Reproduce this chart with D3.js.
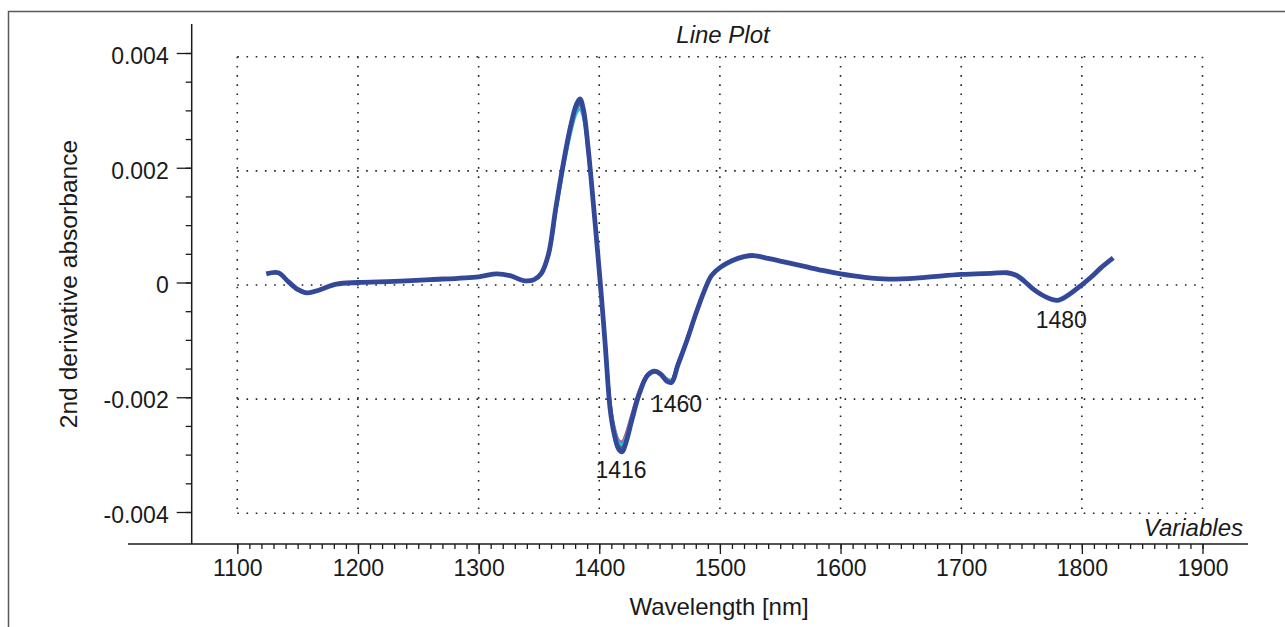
<!DOCTYPE html>
<html>
<head>
<meta charset="utf-8">
<script src="https://cdn.jsdelivr.net/npm/d3@7"></script>
<style>
  html, body { margin: 0; padding: 0; background: #fff; }
  svg { display: block; font-family: "Liberation Sans", Arial, sans-serif; }
</style>
</head>
<body>
<div class="chart"></div>
<script>
// wavelength (nm) and 2nd derivative absorbance (x 1e-3), main (blue) spectrum
var wavelengths = [1124, 1134, 1142, 1150, 1158, 1168, 1182, 1200, 1230, 1260, 1300, 1315, 1326, 1338, 1346, 1352,
    1358, 1364, 1370, 1376, 1381, 1384, 1387, 1391, 1395, 1399, 1402, 1405, 1409, 1412, 1416, 1419, 1422, 1427,
    1433, 1440, 1446, 1451, 1456, 1460, 1465, 1472, 1480, 1487, 1493, 1500, 1510, 1520, 1528, 1540, 1555, 1570,
    1585, 1600, 1620, 1640, 1665, 1700, 1725, 1738, 1745, 1752, 1760, 1770, 1780, 1790, 1800, 1808, 1816, 1826];
var absorbance = [0.15, 0.17, 0.02, -0.12, -0.18, -0.13, -0.03, 0.0, 0.02, 0.05, 0.10, 0.15, 0.12, 0.03, 0.05, 0.16,
    0.50, 1.30, 2.05, 2.70, 3.10, 3.20, 3.00, 2.30, 1.40, 0.45, -0.30, -1.10, -2.20, -2.60, -2.90, -2.95, -2.80, -2.40,
    -1.95, -1.62, -1.55, -1.60, -1.72, -1.74, -1.45, -1.05, -0.55, -0.15, 0.12, 0.26, 0.38, 0.45, 0.47, 0.42, 0.35, 0.28,
    0.21, 0.15, 0.09, 0.06, 0.08, 0.14, 0.16, 0.17, 0.13, 0.03, -0.12, -0.25, -0.31, -0.20, -0.04, 0.10, 0.26, 0.43];

// other replicate spectra, only where they separate from the blue one
var subWavelengths = [1352, 1358, 1364, 1370, 1376, 1381, 1384, 1387, 1391, 1395, 1399, 1402, 1405, 1409, 1412, 1416,
    1419, 1422, 1427, 1433, 1440, 1446, 1451, 1456, 1460, 1465, 1472, 1480];
var seriesPink = [0.16, 0.48, 1.25, 1.98, 2.62, 3.00, 3.10, 2.92, 2.25, 1.38, 0.45, -0.28, -1.05, -2.08, -2.48, -2.75,
    -2.78, -2.65, -2.30, -1.90, -1.60, -1.53, -1.58, -1.68, -1.70, -1.42, -1.03, -0.55];
var seriesGreen = [0.16, 0.49, 1.27, 2.00, 2.65, 3.04, 3.12, 2.95, 2.28, 1.40, 0.46, -0.29, -1.08, -2.14, -2.55, -2.83,
    -2.87, -2.72, -2.35, -1.92, -1.61, -1.54, -1.59, -1.69, -1.71, -1.43, -1.04, -0.55];
var seriesCyan = [0.16, 0.47, 1.22, 1.95, 2.58, 2.95, 3.02, 2.86, 2.22, 1.36, 0.43, -0.30, -1.06, -2.10, -2.50, -2.78,
    -2.82, -2.70, -2.33, -1.91, -1.60, -1.53, -1.58, -1.68, -1.70, -1.42, -1.03, -0.55];

var xTicks = [1100, 1200, 1300, 1400, 1500, 1600, 1700, 1800, 1900];
var yTicks = [0.004, 0.002, 0, -0.002, -0.004];
var yTickLabels = ["0.004", "0.002", "0", "-0.002", "-0.004"];

// peak annotations (label, wavelength, value)
var peakLabels = ["1416", "1460", "1480"];
var peakWavelengths = [1418, 1464, 1783];
var peakValues = [-0.0034, -0.00226, -0.00079];

var width = 1285;
var height = 627;
var fontSize = 23;
var labelSize = 24;

//////// scales
var x = d3.scaleLinear().domain([1100, 1900]).range([237.3, 1202.5]);
var y = d3.scaleLinear().domain([-0.004, 0.004]).range([512, 53]);
var gridY = d3.scaleLinear().domain([-0.004, 0.004]).range([513.3, 56.7]);

var svg = d3.select(".chart")
    .append("svg")
    .attr("width", width)
    .attr("height", height);

// outer frame
svg.append("path")
    .attr("d", "M 8.5 " + height + " L 8.5 11.5 L " + width + " 11.5")
    .attr("fill", "none")
    .attr("stroke", "#5a5a5a")
    .attr("stroke-width", 1.5);

//////// dotted grid
var grid = svg.append("g")
    .attr("stroke", "#222")
    .attr("stroke-width", 1.6)
    .attr("stroke-dasharray", "1.6,7.6");

grid.selectAll(".vgrid")
    .data(xTicks)
    .enter()
    .append("line")
    .attr("x1", function(d) { return x(d); })
    .attr("x2", function(d) { return x(d); })
    .attr("y1", gridY(0.004))
    .attr("y2", gridY(-0.004));

grid.selectAll(".hgrid")
    .data(yTicks)
    .enter()
    .append("line")
    .attr("x1", x(1100))
    .attr("x2", x(1900))
    .attr("y1", function(d) { return gridY(d); })
    .attr("y2", function(d) { return gridY(d); });

//////// axes
var axisY = 544;
var axisX = 191.7;

svg.append("line")
    .attr("x1", 128).attr("x2", 1248)
    .attr("y1", axisY).attr("y2", axisY)
    .attr("stroke", "#1a1a1a").attr("stroke-width", 1.5);

svg.append("line")
    .attr("x1", axisX).attr("x2", axisX)
    .attr("y1", 24).attr("y2", axisY)
    .attr("stroke", "#1a1a1a").attr("stroke-width", 1.5);

// x ticks: minor every 10 nm, major every 100 nm
var xAxis = d3.axisBottom(x)
    .tickValues(d3.range(1100, 1901, 10))
    .tickSize(5)
    .tickFormat("");

var xMinor = svg.append("g")
    .attr("transform", "translate(0," + axisY + ")")
    .call(xAxis);
xMinor.select(".domain").remove();
xMinor.selectAll("line").attr("stroke", "#1a1a1a").attr("stroke-width", 1.3);

var xMajor = svg.append("g")
    .attr("transform", "translate(0," + axisY + ")")
    .call(d3.axisBottom(x).tickValues(xTicks).tickSize(10).tickPadding(22).tickFormat(d3.format("d")));
xMajor.select(".domain").remove();
xMajor.selectAll("line").attr("stroke", "#1a1a1a").attr("stroke-width", 1.3);
xMajor.selectAll("text")
    .attr("font-family", "Liberation Sans, Arial, sans-serif")
    .attr("font-size", fontSize + "px")
    .attr("fill", "#1a1a1a")
    .attr("dy", null)
    .attr("y", 576 - axisY);

// y ticks: minor every 0.0005, major every 0.002
var yMinor = svg.append("g")
    .attr("transform", "translate(" + axisX + ",0)")
    .call(d3.axisLeft(y).tickValues(d3.range(-8, 9).map(function(i) { return i * 0.0005; })).tickSize(6).tickFormat(""));
yMinor.select(".domain").remove();
yMinor.selectAll("line").attr("stroke", "#1a1a1a").attr("stroke-width", 1.3);

var yMajor = svg.append("g")
    .attr("transform", "translate(" + axisX + ",0)")
    .call(d3.axisLeft(y).tickValues(yTicks).tickSize(15).tickPadding(8)
        .tickFormat(function(d, i) { return yTickLabels[i]; }));
yMajor.select(".domain").remove();
yMajor.selectAll("line").attr("stroke", "#1a1a1a").attr("stroke-width", 1.3);
yMajor.selectAll("text")
    .attr("font-family", "Liberation Sans, Arial, sans-serif")
    .attr("font-size", fontSize + "px")
    .attr("fill", "#1a1a1a")
    .attr("dy", "0.45em");

//////// spectra
var line = d3.line()
    .x(function(d) { return x(d[0]); })
    .y(function(d) { return y(d[1] / 1000); })
    .curve(d3.curveCatmullRom.alpha(0.5));

var subSeries = [
    { values: seriesPink, color: "#d2457a" },
    { values: seriesGreen, color: "#2c8f55" },
    { values: seriesCyan, color: "#35b6d8" }
];

subSeries.forEach(function(s) {
    svg.append("path")
        .attr("d", line(d3.zip(subWavelengths, s.values)))
        .attr("fill", "none")
        .attr("stroke", s.color)
        .attr("stroke-width", 3)
        .attr("stroke-linejoin", "round");
});

svg.append("path")
    .attr("d", line(d3.zip(wavelengths, absorbance)))
    .attr("fill", "none")
    .attr("stroke", "#34489a")
    .attr("stroke-width", 4.8)
    .attr("stroke-linejoin", "round")
    .attr("stroke-linecap", "butt");

//////// peak labels
svg.selectAll(".peak")
    .data(peakLabels)
    .enter()
    .append("text")
    .attr("x", function(d, i) { return x(peakWavelengths[i]); })
    .attr("y", function(d, i) { return y(peakValues[i]); })
    .attr("text-anchor", "middle")
    .attr("font-size", fontSize + "px")
    .attr("fill", "#1a1a1a")
    .text(function(d) { return d; });

//////// titles
svg.append("text")
    .attr("x", 723)
    .attr("y", 43)
    .attr("text-anchor", "middle")
    .attr("font-size", labelSize + "px")
    .attr("font-style", "italic")
    .attr("fill", "#1a1a1a")
    .text("Line Plot");

svg.append("text")
    .attr("x", 1243)
    .attr("y", 536)
    .attr("text-anchor", "end")
    .attr("font-size", labelSize + "px")
    .attr("font-style", "italic")
    .attr("fill", "#1a1a1a")
    .text("Variables");

svg.append("text")
    .attr("x", 719)
    .attr("y", 615)
    .attr("text-anchor", "middle")
    .attr("font-size", labelSize + "px")
    .attr("fill", "#1a1a1a")
    .text("Wavelength [nm]");

svg.append("text")
    .attr("transform", "translate(77,284) rotate(-90)")
    .attr("text-anchor", "middle")
    .attr("font-size", "24.6px")
    .attr("fill", "#1a1a1a")
    .text("2nd derivative absorbance");
</script>
</body>
</html>
